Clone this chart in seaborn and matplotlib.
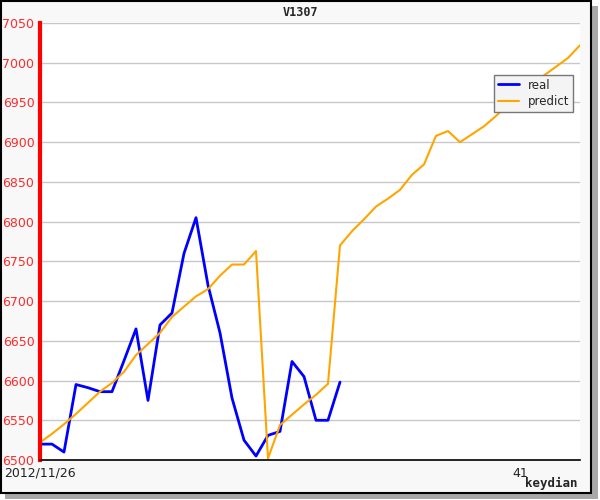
import pandas as pd
import matplotlib.pyplot as plt
import seaborn as sns
from matplotlib.patches import Rectangle
from matplotlib.ticker import MultipleLocator

# data (x = day index)
real_idx = list(range(1, 27))
real = [6520, 6520, 6510, 6595, 6591, 6586, 6586, 6625, 6665, 6575,
        6670, 6685, 6760, 6805, 6720, 6660, 6578, 6525, 6505, 6531,
        6536, 6624, 6605, 6550, 6550, 6598]

pred_idx = list(range(1, 47))
predict = [6522, 6533, 6545, 6558, 6572, 6586, 6597, 6611, 6632, 6646,
           6660, 6680, 6693, 6706, 6715, 6732, 6746, 6746, 6763, 6502,
           6544, 6557, 6570, 6582, 6596, 6770, 6788, 6803, 6819, 6829,
           6840, 6859, 6872, 6908, 6914, 6900, 6910, 6920, 6933, 6947,
           6960, 6972, 6984, 6995, 7006, 7022]

tick_pos = [1, 41]
tick_labels = ["2012/11/26", "41"]

df = pd.concat([
    pd.DataFrame({"x": real_idx, "y": real, "series": "real"}),
    pd.DataFrame({"x": pred_idx, "y": predict, "series": "predict"}),
])

sns.set_style("white")
plt.rcParams["font.family"] = ["DejaVu Sans"]

fig = plt.figure(figsize=(6, 5), dpi=100, facecolor="white")

# frame with shadow
fig.patches.append(Rectangle((0.009, 0.003), 0.987, 0.985, transform=fig.transFigure,
                             facecolor="#a8a8a8", edgecolor="none", zorder=-2))
fig.patches.append(Rectangle((0.001, 0.014), 0.984, 0.985, transform=fig.transFigure,
                             facecolor="#f8f8f8", edgecolor="black", linewidth=1.5, zorder=-1))

ax = fig.add_axes([40 / 600, 1 - 460 / 500, 540 / 600, 437 / 500])
ax.set_facecolor("white")

sns.lineplot(data=df, x="x", y="y", hue="series",
             palette={"real": "#0000ff", "predict": "#ffa500"},
             ax=ax, legend=False)
ax.lines[0].set_linewidth(2.0)
ax.lines[1].set_linewidth(1.5)

ax.set_xlim(1, 46)
ax.set_ylim(6500, 7050)
ax.yaxis.set_major_locator(MultipleLocator(50))
ax.yaxis.set_minor_locator(MultipleLocator(10))
ax.set_xticks(tick_pos)
ax.set_xticklabels(tick_labels)
ax.grid(axis="y", color="#c8c8c8", linewidth=1)
ax.set_axisbelow(True)

for s in ["top", "right"]:
    ax.spines[s].set_visible(False)
ax.spines["left"].set_color("red")
ax.spines["left"].set_linewidth(3)
ax.spines["bottom"].set_color("black")
ax.spines["bottom"].set_linewidth(1.2)

ax.tick_params(axis="y", which="both", direction="in", colors="red",
               labelsize=9, pad=4)
ax.tick_params(axis="y", which="major", length=6, width=1.5)
ax.tick_params(axis="y", which="minor", length=4, width=1.2)
ax.tick_params(axis="y", labelcolor="#ff2a2a")
ax.tick_params(axis="x", direction="in", length=5, labelsize=9,
               labelcolor="#222222", pad=5)
ax.set_xlabel("")
ax.set_ylabel("")

ax.legend(handles=ax.lines, labels=["real", "predict"], loc="upper left",
          bbox_to_anchor=(454 / 540, 1 - 52 / 437), borderaxespad=0,
          fontsize=8.5, frameon=True, fancybox=False, edgecolor="#777777",
          facecolor="#f4f4f4", framealpha=1, handlelength=1.8,
          borderpad=0.3, labelspacing=0.3)

fig.text(0.5, 1 - 13 / 500, "V1307", ha="center", va="center",
         family="monospace", fontweight="bold", fontsize=8.5)
fig.text(578 / 600, 1 - 483 / 500, "keydian", ha="right", va="center",
         family="monospace", fontweight="bold", fontsize=9)

fig.savefig("out.png", dpi=100, facecolor=fig.get_facecolor())
